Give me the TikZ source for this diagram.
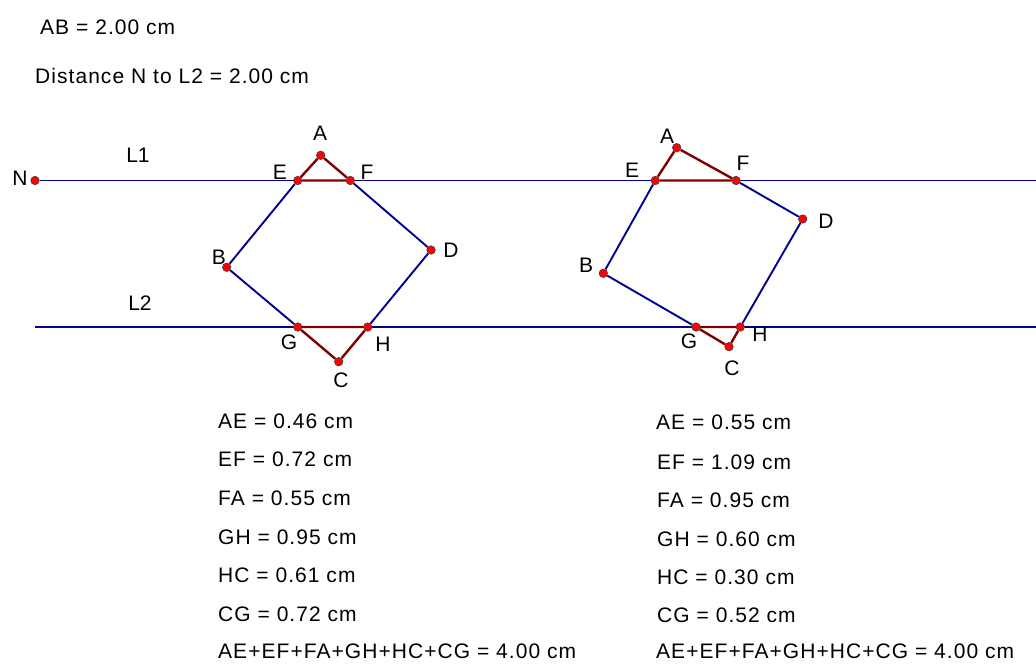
\documentclass[tikz,border=0pt]{standalone}
\usepackage{fontspec}
\setmainfont{Liberation Sans}
\newfontfamily\measfont{Liberation Sans}[LetterSpace=5]
\definecolor{navyline}{RGB}{0,0,140}
\definecolor{trired}{RGB}{128,0,0}

\begin{document}
\begin{tikzpicture}[x=1pt, y=-1pt, every node/.style={font=\fontsize{21}{25}\selectfont},
  pt/.style={circle, fill=red, draw=black!75, line width=0.6pt, inner sep=0pt, minimum size=8.5pt},
  lbl/.style={inner sep=0pt},
  meas/.style={anchor=west, inner sep=0pt, font=\measfont\fontsize{21}{25}\selectfont},
  side/.style={navyline, line width=1.9pt},
  tri/.style={trired, line width=2.4pt}]
\useasboundingbox (0,0) rectangle (1036,666);

\node[meas] (ab) at (40,27) {AB = 2.00 cm};
\node[meas] (dist) at (35,76) {Distance N to L2 = 2.00 cm};

\node[pt] (N) at (35,180.5) {};
\node[lbl] (lN) at (20,178) {N};
\coordinate (L1e) at (1036,180.5);
\coordinate (L2s) at (35,327);
\coordinate (L2e) at (1036,327);
\node[lbl] (lL1) at (138,155) {L1};
\node[lbl] (lL2) at (140,303) {L2};
\draw[side] (N)--(L1e);
\draw[side] (L2s)--(L2e);

\node[pt] (A1) at (320.7,155.3) {};
\node[pt] (E1) at (297.7,180.5) {};
\node[pt] (F1) at (350.3,180.5) {};
\node[pt] (D1) at (431,250) {};
\node[pt] (B1) at (226.7,267.3) {};
\node[pt] (G1) at (297.7,327) {};
\node[pt] (H1) at (367.7,327) {};
\node[pt] (C1) at (338.7,361.7) {};
\node[lbl] (lA1) at (320,133) {A};
\node[lbl] (lE1) at (280,172) {E};
\node[lbl] (lF1) at (367,172) {F};
\node[lbl] (lB1) at (219,257) {B};
\node[lbl] (lD1) at (451,250) {D};
\node[lbl] (lG1) at (289,342) {G};
\node[lbl] (lH1) at (383,344) {H};
\node[lbl] (lC1) at (341,380) {C};
\draw[side] (E1)--(B1)--(G1);
\draw[side] (H1)--(D1)--(F1);
\draw[tri] (A1)--(E1)--(F1)--(A1);
\draw[tri] (G1)--(H1)--(C1)--(G1);

\node[pt] (A2) at (676.7,147.7) {};
\node[pt] (E2) at (655.3,180.5) {};
\node[pt] (F2) at (736,180.5) {};
\node[pt] (D2) at (802.7,219) {};
\node[pt] (B2) at (603.3,273.3) {};
\node[pt] (G2) at (696,327) {};
\node[pt] (H2) at (740.3,327) {};
\node[pt] (C2) at (729,346.7) {};
\node[lbl] (lA2) at (667,136) {A};
\node[lbl] (lE2) at (632,170) {E};
\node[lbl] (lF2) at (743,163) {F};
\node[lbl] (lB2) at (586,265) {B};
\node[lbl] (lD2) at (826,221) {D};
\node[lbl] (lG2) at (689,341) {G};
\node[lbl] (lH2) at (760,334) {H};
\node[lbl] (lC2) at (732,368) {C};
\draw[side] (E2)--(B2)--(G2);
\draw[side] (H2)--(D2)--(F2);
\draw[tri] (A2)--(E2)--(F2)--(A2);
\draw[tri] (G2)--(H2)--(C2)--(G2);

\node[meas] (ae1) at (218,421) {AE = 0.46 cm};
\node[meas] (ef1) at (218,459.5) {EF = 0.72 cm};
\node[meas] (fa1) at (218,498) {FA = 0.55 cm};
\node[meas] (gh1) at (218,537) {GH = 0.95 cm};
\node[meas] (hc1) at (218,575.5) {HC = 0.61 cm};
\node[meas] (cg1) at (218,614) {CG = 0.72 cm};
\node[meas] (sum1) at (218,651) {AE+EF+FA+GH+HC+CG = 4.00 cm};

\node[meas] (ae2) at (656,422) {AE = 0.55 cm};
\node[meas] (ef2) at (657,462) {EF = 1.09 cm};
\node[meas] (fa2) at (657,500) {FA = 0.95 cm};
\node[meas] (gh2) at (657,539) {GH = 0.60 cm};
\node[meas] (hc2) at (657,577) {HC = 0.30 cm};
\node[meas] (cg2) at (657,615) {CG = 0.52 cm};
\node[meas] (sum2) at (656,651) {AE+EF+FA+GH+HC+CG = 4.00 cm};
\end{tikzpicture}
\end{document}
